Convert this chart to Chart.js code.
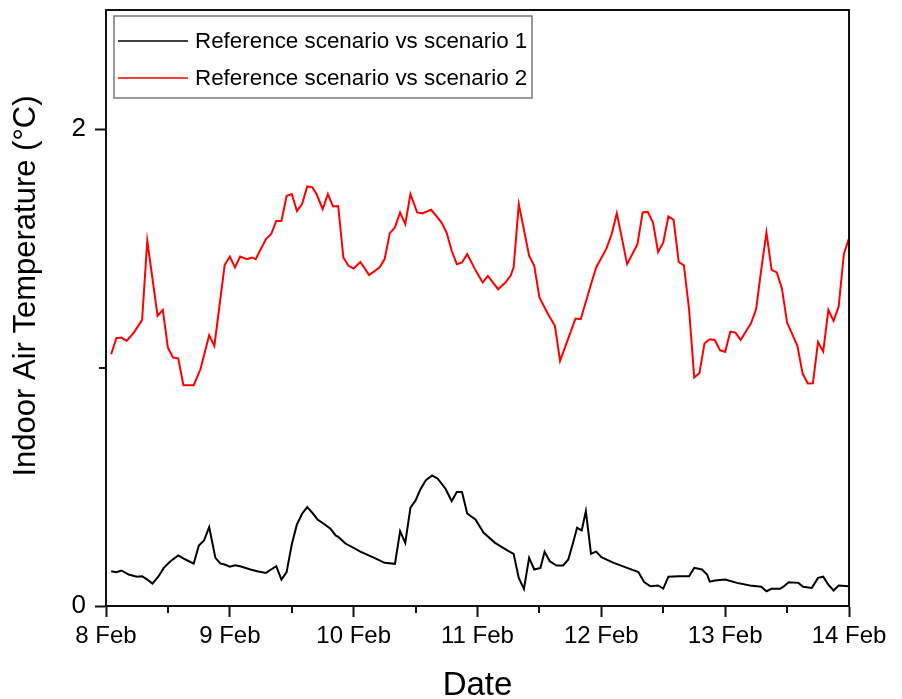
<!DOCTYPE html>
<html><head><meta charset="utf-8">
<script src="https://cdn.jsdelivr.net/npm/chart.js@4.4.1/dist/chart.umd.min.js"></script>
<style>html,body{margin:0;padding:0;background:#fff}canvas{display:block}</style>
</head><body>
<canvas id="c" width="902" height="699"></canvas>
<script>
// x values are hours since 8 Feb 00:00
const dayLabels = ['8 Feb','9 Feb','10 Feb','11 Feb','12 Feb','13 Feb','14 Feb'];
const dayTickHours = [0,24,48,72,96,120,144];
const minorXTickHours = [12,36,60,84,108,132];
const yTickValues = [0,2];
const minorYTickValues = [1];
const seriesNames = ['Reference scenario vs scenario 1','Reference scenario vs scenario 2'];
const yTitle = 'Indoor Air Temperature (°C)';
const xTitle = 'Date';

const s1Hours = [1,2,3,4.4,6,7,8,9,10.2,11.2,12.5,14,15.4,17,18,19,20,21.2,22.2,23,24,25,26,28,29.3,31,32,33,34,35,36,37,38,39,40,41,42.2,43.5,44.5,45,46.4,48,49.3,52,54,56,57,58,59,60,61,62,63.2,64.3,65.8,67,68,69,70,71.6,73.2,75.4,77.7,79,80,81,82,83,84.2,85,86,87.3,88.6,89.6,90.6,91.3,92.2,93,94,95,96,98.4,101,103.2,104.3,105.5,107,108,109,111,113,114,115.5,116.5,117,118,120,122.3,124.8,127,128,129,130.6,131.3,132.3,134.2,135.1,136.8,138,139,140,141,142,144];
const s1Values = [0.146,0.142,0.149,0.132,0.123,0.125,0.111,0.094,0.125,0.160,0.188,0.212,0.195,0.178,0.254,0.275,0.331,0.202,0.178,0.174,0.165,0.171,0.167,0.153,0.146,0.139,0.153,0.167,0.111,0.142,0.258,0.342,0.387,0.415,0.391,0.363,0.345,0.324,0.296,0.290,0.262,0.244,0.228,0.202,0.181,0.177,0.314,0.265,0.412,0.443,0.492,0.528,0.548,0.534,0.492,0.440,0.478,0.478,0.388,0.363,0.307,0.265,0.234,0.219,0.118,0.072,0.202,0.153,0.160,0.228,0.188,0.170,0.170,0.195,0.272,0.328,0.317,0.398,0.219,0.228,0.205,0.181,0.160,0.142,0.100,0.083,0.086,0.073,0.123,0.125,0.125,0.160,0.153,0.132,0.102,0.107,0.111,0.097,0.086,0.081,0.062,0.072,0.072,0.081,0.100,0.097,0.081,0.076,0.118,0.123,0.090,0.065,0.086,0.083];

const s2Hours = [1,2,3,4,5.4,7,8,10,11,12,13,14,15,17,18.3,20,21,23,24,25,26,27.3,28.3,29,31,32,33,34,35,36,37,38,39,40,40.8,42,43,44,45,46,47,48,49.3,51,53,54,55,56,57,58,59,60.3,61.3,63,64,65,66,67,68,69,70,71.5,73,74,76,77.4,78.4,79,80,81.3,82,83,84,85.5,87,88,90,91,92,94,95,96,97,98,99,101,103,104,105,106,107,108,109,110,111,112,113,114,115,116,117,118,119,120,121,122,123,125,126,127,128,129,130,131,132,134,135,136,137,138,139,140,141,142,143,144];
const s2Values = [1.056,1.123,1.126,1.112,1.147,1.200,1.532,1.217,1.242,1.084,1.042,1.039,0.926,0.926,0.993,1.136,1.091,1.430,1.466,1.420,1.466,1.455,1.462,1.455,1.539,1.560,1.615,1.615,1.720,1.728,1.657,1.686,1.760,1.756,1.728,1.665,1.728,1.676,1.678,1.462,1.427,1.416,1.443,1.388,1.420,1.455,1.564,1.588,1.651,1.602,1.728,1.651,1.647,1.662,1.636,1.609,1.567,1.490,1.434,1.441,1.476,1.413,1.357,1.385,1.329,1.357,1.385,1.420,1.686,1.546,1.469,1.427,1.294,1.231,1.175,1.028,1.147,1.206,1.203,1.350,1.420,1.460,1.500,1.560,1.647,1.434,1.518,1.651,1.653,1.609,1.485,1.525,1.634,1.620,1.443,1.429,1.245,0.958,0.976,1.102,1.119,1.116,1.073,1.066,1.151,1.147,1.116,1.186,1.245,1.413,1.567,1.410,1.399,1.332,1.189,1.091,0.976,0.933,0.934,1.107,1.067,1.242,1.196,1.256,1.476,1.542];

const FONT = "'Liberation Sans', Arial, sans-serif";
Chart.defaults.font.family = FONT;
Chart.defaults.color = '#000';

const decorPlugin = {
  id: 'decor',
  afterDraw(chart) {
    const {ctx, chartArea: a, scales: {x, y}} = chart;
    ctx.save();
    // top & right frame
    ctx.strokeStyle = '#111';
    ctx.lineWidth = 2;
    ctx.beginPath();
    ctx.moveTo(a.left, a.top);
    ctx.lineTo(a.right, a.top);
    ctx.lineTo(a.right, a.bottom);
    ctx.stroke();
    // minor ticks
    ctx.beginPath();
    minorXTickHours.forEach(h => {
      const px = Math.round(x.getPixelForValue(h));
      ctx.moveTo(px, a.bottom); ctx.lineTo(px, a.bottom + 7);
    });
    minorYTickValues.forEach(v => {
      const py = Math.round(y.getPixelForValue(v));
      ctx.moveTo(a.left, py); ctx.lineTo(a.left - 7, py);
    });
    ctx.stroke();
    // y-axis title
    ctx.save();
    ctx.translate(26, 286);
    ctx.rotate(-Math.PI / 2);
    ctx.fillStyle = '#000';
    ctx.font = '31px ' + FONT;
    ctx.textAlign = 'center';
    ctx.textBaseline = 'middle';
    ctx.fillText(yTitle, 0, 0);
    ctx.restore();
    // legend box
    const lx = 114, ly = 16, lw = 418, lh = 82;
    ctx.fillStyle = '#fff';
    ctx.fillRect(lx, ly, lw, lh);
    ctx.strokeStyle = '#7a7a7a';
    ctx.lineWidth = 1.5;
    ctx.strokeRect(lx, ly, lw, lh);
    const rows = [41, 78];
    chart.data.datasets.forEach((ds, i) => {
      ctx.strokeStyle = ds.borderColor;
      ctx.lineWidth = 1.5;
      ctx.beginPath();
      ctx.moveTo(118, rows[i]); ctx.lineTo(188, rows[i]);
      ctx.stroke();
      ctx.fillStyle = '#000';
      ctx.font = '22.4px ' + FONT;
      ctx.textBaseline = 'middle';
      ctx.textAlign = 'left';
      ctx.fillText(ds.label, 195, rows[i] + 1);
    });
    ctx.restore();
  }
};

new Chart(document.getElementById('c'), {
  type: 'line',
  data: {
    datasets: [
      { label: seriesNames[0], data: s1Hours.map((h, i) => ({x: h, y: s1Values[i]})),
        borderColor: '#000000', borderWidth: 2, pointRadius: 0, tension: 0, fill: false },
      { label: seriesNames[1], data: s2Hours.map((h, i) => ({x: h, y: s2Values[i]})),
        borderColor: '#ff0000', borderWidth: 2, pointRadius: 0, tension: 0, fill: false }
    ]
  },
  options: {
    responsive: false,
    animation: false,
    layout: { padding: { top: 10, right: 53, bottom: 0, left: 0 } },
    plugins: { legend: { display: false }, tooltip: { enabled: false } },
    scales: {
      x: {
        type: 'linear', min: 0, max: 144,
        afterBuildTicks: s => { s.ticks = dayTickHours.map(v => ({value: v})); },
        afterFit: s => { s.height = 93; s.paddingLeft = 0; s.paddingRight = 0; },
        ticks: { autoSkip: false, maxRotation: 0, padding: 7,
          font: { size: 24, lineHeight: 1 }, color: '#000',
          callback: (v, i) => dayLabels[i] },
        grid: { drawOnChartArea: false, drawTicks: true, tickLength: 11, tickWidth: 2, tickColor: '#111' },
        border: { display: true, color: '#111', width: 2 },
        title: { display: true, text: xTitle, font: { size: 33, lineHeight: 1 }, color: '#000', padding: { top: 0, bottom: -3 } }
      },
      y: {
        type: 'linear', min: 0, max: 2.5,
        afterBuildTicks: s => { s.ticks = yTickValues.map(v => ({value: v})); },
        afterFit: s => { s.width = 106; s.paddingTop = 0; s.paddingBottom = 0; },
        ticks: { padding: 9, font: { size: 26, lineHeight: 1 }, color: '#000',
          callback: v => String(v) },
        grid: { drawOnChartArea: false, drawTicks: true, tickLength: 11, tickWidth: 2, tickColor: '#111' },
        border: { display: true, color: '#111', width: 2 },
        title: { display: false }
      }
    }
  },
  plugins: [decorPlugin]
});
</script>
</body></html>
